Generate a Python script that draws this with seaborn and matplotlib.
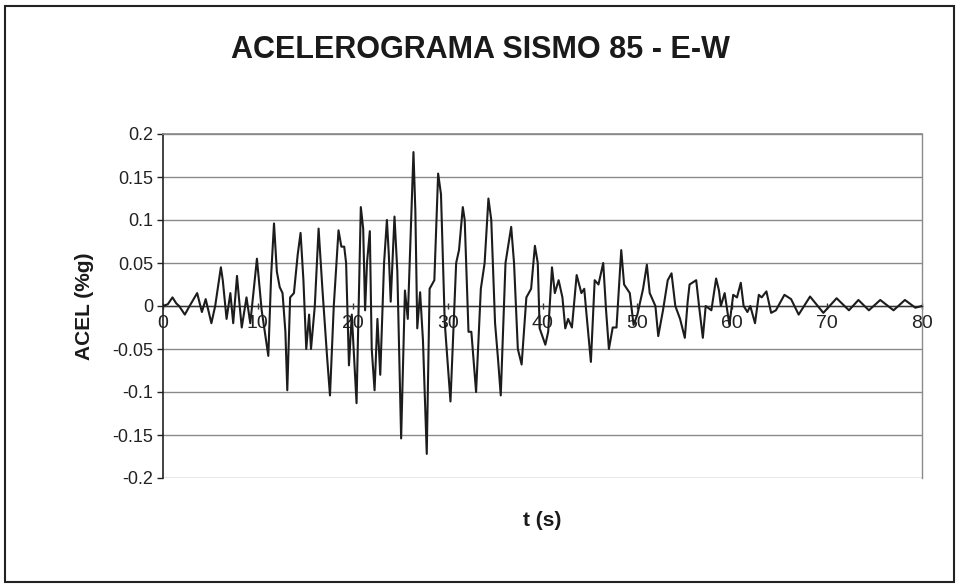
import matplotlib
matplotlib.use("Agg")
import matplotlib.pyplot as plt
from matplotlib.patches import Rectangle
import seaborn as sns
import pandas as pd

# Extrema / shoulders of the record
t_s = [0.0, 0.5, 1.0, 1.4, 1.7, 2.3, 2.8, 3.6, 4.1, 4.5, 5.1, 5.5, 6.1, 6.3, 6.7,
       7.1, 7.4, 7.8, 8.0, 8.3, 8.8, 9.2, 9.9, 10.4, 11.1, 11.4, 11.7, 12.0, 12.3,
       12.6, 12.9, 13.1, 13.4, 13.8, 14.2, 14.5, 14.8, 15.1, 15.4, 15.6, 16.0, 16.4,
       16.8, 17.3, 17.6, 18.0, 18.5, 18.8, 19.1, 19.3, 19.6, 19.9, 20.4, 20.85, 21.1,
       21.3, 21.5, 21.8, 22.0, 22.3, 22.6, 22.9, 23.3, 23.6, 23.8, 24.0, 24.4, 24.7,
       25.1, 25.5, 25.8, 26.4, 26.6, 26.8, 27.1, 27.4, 27.8, 28.1, 28.6, 29.0, 29.3,
       29.7, 30.3, 30.9, 31.2, 31.6, 31.8, 32.2, 32.5, 33.0, 33.5, 33.9, 34.3, 34.6,
       35.0, 35.3, 35.6, 36.1, 36.7, 37.0, 37.4, 37.8, 38.3, 38.8, 39.2, 39.5, 39.7,
       40.3, 40.6, 41.0, 41.3, 41.7, 42.1, 42.4, 42.7, 43.1, 43.6, 44.1, 44.4, 44.6,
       45.1, 45.5, 45.9, 46.4, 46.7, 47.0, 47.4, 47.8, 48.3, 48.6, 49.2, 49.6, 50.0,
       50.6, 51.0, 51.3, 51.9, 52.2, 52.7, 53.2, 53.6, 54.0, 54.5, 55.0, 55.3, 55.5,
       56.2, 56.5, 56.9, 57.2, 57.8, 58.3, 58.6, 58.8, 59.2, 59.7, 60.1, 60.5, 60.9,
       61.2, 61.6, 61.9, 62.4, 62.8, 63.1, 63.6, 64.1, 64.6, 65.5, 66.2, 67.0, 68.2,
       69.6, 71.0, 72.3, 73.3, 74.4, 75.6, 77.0, 78.2, 79.3, 80.0]
acel = [0.0, 0.002, 0.01, 0.003, 0.0, -0.01, 0.0, 0.015, -0.007, 0.008, -0.02, 0.0,
        0.045, 0.03, -0.015, 0.015, -0.02, 0.035, 0.01, -0.025, 0.01, -0.02, 0.055,
        -0.005, -0.058, 0.036, 0.096, 0.04, 0.022, 0.015, -0.03, -0.098, 0.01, 0.015,
        0.06, 0.085, 0.03, -0.05, -0.01, -0.05, 0.0, 0.09, 0.02, -0.06, -0.104, 0.0,
        0.088, 0.069, 0.069, 0.05, -0.069, -0.01, -0.113, 0.115, 0.09, -0.005, 0.05,
        0.087, -0.05, -0.098, -0.015, -0.08, 0.05, 0.1, 0.06, 0.005, 0.104, 0.04,
        -0.154, 0.018, -0.015, 0.179, 0.11, -0.026, 0.016, -0.04, -0.172, 0.02, 0.03,
        0.154, 0.13, -0.02, -0.111, 0.05, 0.065, 0.115, 0.1, -0.03, -0.03, -0.1, 0.02,
        0.05, 0.125, 0.1, -0.02, -0.06, -0.104, 0.05, 0.092, 0.05, -0.05, -0.068, 0.01,
        0.02, 0.07, 0.05, -0.026, -0.045, -0.03, 0.045, 0.015, 0.03, 0.01, -0.026,
        -0.015, -0.025, 0.036, 0.015, 0.02, -0.005, -0.065, 0.03, 0.025, 0.05, -0.005,
        -0.05, -0.025, -0.025, 0.065, 0.025, 0.015, -0.022, -0.01, 0.02, 0.048, 0.015,
        0.0, -0.035, -0.005, 0.03, 0.038, 0.0, -0.015, -0.037, 0.005, 0.025, 0.03, 0.0,
        -0.037, 0.0, -0.005, 0.032, 0.018, 0.0, 0.015, -0.022, 0.013, 0.01, 0.027, 0.0,
        -0.007, 0.0, -0.02, 0.013, 0.01, 0.017, -0.008, -0.005, 0.013, 0.008, -0.01,
        0.011, -0.008, 0.009, -0.005, 0.007, -0.005, 0.007, -0.005, 0.007, -0.002, 0.0]

x_ticks = [0, 10, 20, 30, 40, 50, 60, 70, 80]
y_ticks = [-0.2, -0.15, -0.1, -0.05, 0, 0.05, 0.1, 0.15, 0.2]
y_labels = ["-0.2", "-0.15", "-0.1", "-0.05", "0", "0.05", "0.1", "0.15", "0.2"]

title = "ACELEROGRAMA SISMO 85 - E-W"
xlabel = "t (s)"
ylabel = "ACEL (%g)"

sns.set_theme(style="white")
plt.rcParams["font.family"] = ["Liberation Sans", "DejaVu Sans"]

df = pd.DataFrame({"t": t_s, "a": acel})

fig = plt.figure(figsize=(9.59, 5.88), dpi=100)
ax = fig.add_axes([163 / 959, 1 - 478 / 588, (922 - 163) / 959, (478 - 134) / 588])

sns.lineplot(data=df, x="t", y="a", ax=ax, color="#1c1c1c", lw=1.5,
             sort=False, estimator=None, zorder=3)

ax.set_xlim(0, 80)
ax.set_ylim(-0.2, 0.2)
ax.set_yticks(y_ticks)
ax.set_yticklabels(y_labels)
ax.set_xticks(x_ticks)
ax.set_xticklabels([str(v) for v in x_ticks])

ax.grid(axis="y", color="#8a8a8a", lw=1.0)
ax.grid(axis="x", visible=False)
ax.set_axisbelow(True)

ax.spines["bottom"].set_position(("data", 0))
ax.spines["bottom"].set_color("#333333")
ax.spines["bottom"].set_linewidth(1.0)
ax.spines["left"].set_color("#222222")
ax.spines["left"].set_linewidth(1.2)
ax.spines["top"].set_color("#8a8a8a")
ax.spines["right"].set_color("#8a8a8a")
ax.spines["right"].set_linewidth(1.0)

ax.tick_params(axis="y", direction="out", length=4, width=1, color="#222222",
               labelsize=13, pad=3, labelcolor="#222222", left=True)
ax.tick_params(axis="x", direction="inout", length=5, width=1, color="#333333",
               labelsize=14, pad=4, labelcolor="#222222", bottom=True)

ax.set_xlabel("")
ax.set_ylabel("")

fig.text(480 / 959, 1 - 50 / 588, title, ha="center", va="center",
         fontsize=22, fontweight="bold", color="#1a1a1a")
fig.text(542 / 959, 1 - 520 / 588, xlabel, ha="center", va="center",
         fontsize=15, fontweight="bold", color="#1a1a1a")
fig.text(84 / 959, 1 - 306 / 588, ylabel, ha="center", va="center", rotation=90,
         fontsize=15, fontweight="bold", color="#1a1a1a")

fig.patches.append(Rectangle((5 / 959, 6 / 588), 949 / 959, 576 / 588,
                             transform=fig.transFigure, fill=False,
                             edgecolor="#222222", lw=1.5))

fig.savefig("out.png", dpi=100, facecolor="white")
